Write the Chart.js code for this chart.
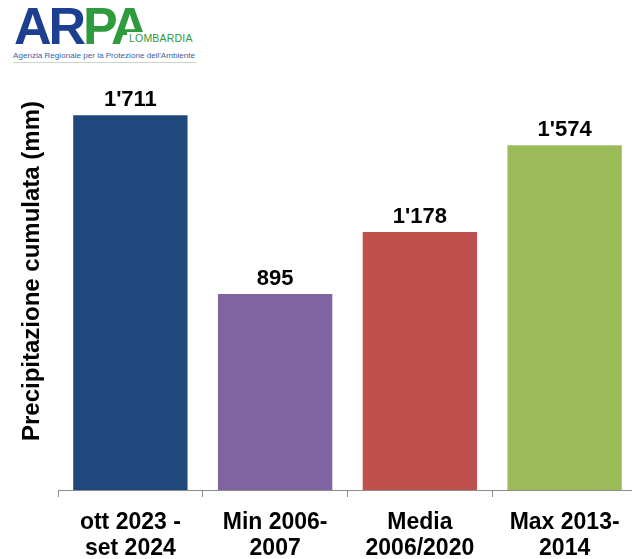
<!DOCTYPE html>
<html>
<head>
<meta charset="utf-8">
<script src="https://cdn.jsdelivr.net/npm/chart.js@4.4.0/dist/chart.umd.min.js"></script>
<style>
    html, body { margin: 0; padding: 0; background: #fff; overflow: hidden; }
    body { width: 632px; height: 559px; position: relative; font-family: "Liberation Sans", Arial, sans-serif; }
    #wrap { position: absolute; left: 0; top: 0; width: 637px; height: 559px; }
    /* logo ARPA */
    .logo { position: absolute; left: 12px; top: 0; width: 190px; height: 66px; }
    .logo .big { position: absolute; left: 2px; top: -4px; font-size: 52px; font-weight: bold; letter-spacing: -3px; line-height: 60px; }
    .logo .blu { color: #1d3f8f; }
    .logo .verde { color: #2e9b3c; }
    .logo .lomb { position: absolute; left: 115px; top: 32px; font-size: 10.5px; color: #2e9b3c; letter-spacing: 0.2px; background: #fff; padding-left: 2px; }
    .logo .sub { position: absolute; left: 1px; top: 51px; font-size: 8.1px; color: #3d5ea0; white-space: nowrap; }
    .logo .linea { position: absolute; left: 1px; top: 62px; width: 183px; height: 1px; background: #c8d6c8; }
</style>
</head>
<body>
<div class="logo">
    <div class="big"><span class="blu">AR</span><span class="verde">PA</span></div>
    <div class="lomb">LOMBARDIA</div>
    <div class="sub">Agenzia Regionale per la Protezione dell'Ambiente</div>
    <div class="linea"></div>
</div>
<div id="wrap"><canvas id="precChart"></canvas></div>
<script>
// Dati precipitazione cumulata
const categorie = [['ott 2023 -', 'set 2024'], ['Min 2006-', '2007'], ['Media', '2006/2020'], ['Max 2013-', '2014']];
const valori = [1711, 895, 1178, 1574];
const colori = ['#1f497d', '#8064a2', '#c0504d', '#9bbb59'];
const yMin = 0;
const yMax = 2000;

// formato con apostrofo per le migliaia
function formatta(v) {
    return String(v).replace(/\B(?=(\d{3})+(?!\d))/g, "'");
}

// etichette sopra le barre
const etichettePlugin = {
    id: 'etichette',
    afterDatasetsDraw(chart) {
        const ctx = chart.ctx;
        const meta = chart.getDatasetMeta(0);
        ctx.save();
        ctx.font = 'bold 22px "Liberation Sans", Arial, sans-serif';
        ctx.fillStyle = '#000';
        ctx.textAlign = 'center';
        ctx.textBaseline = 'alphabetic';
        meta.data.forEach((bar, i) => {
            ctx.fillText(formatta(valori[i]), bar.x, bar.y - 9);
        });
        ctx.restore();
    }
};

document.addEventListener('DOMContentLoaded', function() {
    const ctx = document.getElementById('precChart');
    new Chart(ctx, {
        type: 'bar',
        data: {
            labels: categorie,
            datasets: [{
                data: valori,
                backgroundColor: colori,
                borderWidth: 0,
                categoryPercentage: 0.79,
                barPercentage: 1
            }]
        },
        options: {
            responsive: true,
            maintainAspectRatio: false,
            animation: false,
            layout: { padding: { top: 52, left: 18, right: 0, bottom: 0 } },
            plugins: {
                legend: { display: false },
                tooltip: { enabled: false }
            },
            scales: {
                x: {
                    grid: {
                        offset: true,
                        drawOnChartArea: false,
                        drawTicks: true,
                        tickLength: 7,
                        color: '#8c8c8c',
                        lineWidth: 1
                    },
                    border: { display: true, color: '#8c8c8c', width: 1 },
                    ticks: {
                        color: '#000',
                        font: { family: '"Liberation Sans", Arial, sans-serif', size: 23, weight: 'bold', lineHeight: 1.13 },
                        padding: 13,
                        maxRotation: 0,
                        autoSkip: false
                    },
                    afterFit: function(scale) { scale.height = 69; }
                },
                y: {
                    min: yMin,
                    max: yMax,
                    grid: { display: false },
                    border: { display: false },
                    ticks: { display: false },
                    title: {
                        display: true,
                        text: 'Precipitazione cumulata (mm)',
                        color: '#000',
                        font: { family: '"Liberation Sans", Arial, sans-serif', size: 24, weight: 'bold', lineHeight: 1.2 },
                        padding: 0
                    },
                    afterFit: function(scale) { scale.width = 40; }
                }
            }
        },
        plugins: [etichettePlugin]
    });
});
</script>
</body>
</html>
